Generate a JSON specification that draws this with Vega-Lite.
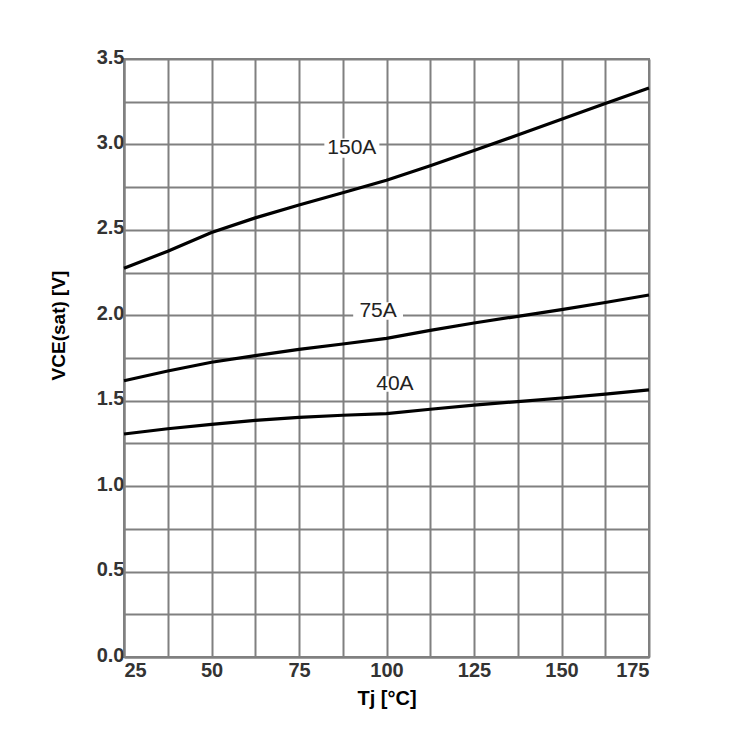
{
  "$schema": "https://vega.github.io/schema/vega-lite/v6.json",
  "autosize": {"type": "none"},
  "width": 525,
  "height": 598,
  "padding": {"left": 124, "top": 59, "right": 92, "bottom": 98},
  "background": "white",
  "config": {
    "view": {"stroke": "#808080", "strokeWidth": 2},
    "axis": {
      "grid": true,
      "gridColor": "#808080",
      "gridWidth": 2,
      "gridOpacity": 1,
      "domainColor": "#808080",
      "domainWidth": 2,
      "ticks": false,
      "labelFont": "Liberation Sans",
      "labelFontWeight": "bold",
      "labelFontSize": 20,
      "labelColor": "#333333",
      "titleFont": "Liberation Sans",
      "titleFontWeight": "bold",
      "titleFontSize": 20,
      "titleColor": "#000000"
    }
  },
  "datasets": {
    "curves": [
      {"T": 25, "V": 2.275, "I": "150A"},
      {"T": 37.5, "V": 2.375, "I": "150A"},
      {"T": 50, "V": 2.485, "I": "150A"},
      {"T": 62.5, "V": 2.57, "I": "150A"},
      {"T": 75, "V": 2.645, "I": "150A"},
      {"T": 87.5, "V": 2.717, "I": "150A"},
      {"T": 100, "V": 2.79, "I": "150A"},
      {"T": 112.5, "V": 2.875, "I": "150A"},
      {"T": 125, "V": 2.965, "I": "150A"},
      {"T": 137.5, "V": 3.055, "I": "150A"},
      {"T": 150, "V": 3.147, "I": "150A"},
      {"T": 162.5, "V": 3.24, "I": "150A"},
      {"T": 175, "V": 3.33, "I": "150A"},
      {"T": 25, "V": 1.617, "I": "75A"},
      {"T": 37.5, "V": 1.674, "I": "75A"},
      {"T": 50, "V": 1.725, "I": "75A"},
      {"T": 62.5, "V": 1.764, "I": "75A"},
      {"T": 75, "V": 1.8, "I": "75A"},
      {"T": 87.5, "V": 1.832, "I": "75A"},
      {"T": 100, "V": 1.865, "I": "75A"},
      {"T": 112.5, "V": 1.912, "I": "75A"},
      {"T": 125, "V": 1.955, "I": "75A"},
      {"T": 137.5, "V": 1.994, "I": "75A"},
      {"T": 150, "V": 2.033, "I": "75A"},
      {"T": 162.5, "V": 2.075, "I": "75A"},
      {"T": 175, "V": 2.119, "I": "75A"},
      {"T": 25, "V": 1.305, "I": "40A"},
      {"T": 37.5, "V": 1.336, "I": "40A"},
      {"T": 50, "V": 1.362, "I": "40A"},
      {"T": 62.5, "V": 1.385, "I": "40A"},
      {"T": 75, "V": 1.403, "I": "40A"},
      {"T": 87.5, "V": 1.415, "I": "40A"},
      {"T": 100, "V": 1.425, "I": "40A"},
      {"T": 112.5, "V": 1.45, "I": "40A"},
      {"T": 125, "V": 1.474, "I": "40A"},
      {"T": 137.5, "V": 1.495, "I": "40A"},
      {"T": 150, "V": 1.516, "I": "40A"},
      {"T": 162.5, "V": 1.539, "I": "40A"},
      {"T": 175, "V": 1.563, "I": "40A"}
    ],
    "labels": [
      {"T": 90.1, "V": 2.979, "label": "150A"},
      {"T": 97.6, "V": 2.025, "label": "75A"},
      {"T": 102.4, "V": 1.598, "label": "40A"}
    ]
  },
  "layer": [
    {
      "data": {"name": "curves"},
      "mark": {"type": "line", "color": "#000000", "strokeWidth": 3.2, "interpolate": "linear"},
      "encoding": {
        "x": {
          "field": "T",
          "type": "quantitative",
          "scale": {"domain": [25, 175], "nice": false, "zero": false},
          "axis": {
            "values": [25, 37.5, 50, 62.5, 75, 87.5, 100, 112.5, 125, 137.5, 150, 162.5, 175],
            "labelExpr": "datum.value % 25 == 0 ? datum.value : ''",
            "labelPadding": 3,
            "title": "Tj [°C]",
            "titleY": 41,
            "titleBaseline": "middle"
          }
        },
        "y": {
          "field": "V",
          "type": "quantitative",
          "scale": {"domain": [0, 3.5], "nice": false},
          "axis": {
            "values": [0, 0.25, 0.5, 0.75, 1, 1.25, 1.5, 1.75, 2, 2.25, 2.5, 2.75, 3, 3.25, 3.5],
            "labelExpr": "(datum.value * 2) % 1 == 0 ? format(datum.value, '.1f') : ''",
            "labelPadding": 0,
            "labelOffset": -2,
            "title": "VCE(sat) [V]",
            "titleFontSize": 19,
            "titleX": -66,
            "titleY": 266,
            "titleAlign": "center",
            "titleBaseline": "middle",
            "titleAngle": -90
          }
        },
        "detail": {"field": "I", "type": "nominal"}
      }
    },
    {
      "data": {"name": "labels"},
      "mark": {"type": "point", "filled": true, "color": "white", "opacity": 1, "shape": "M-1,-0.35H1V0.35H-1Z"},
      "encoding": {
        "x": {"field": "T", "type": "quantitative"},
        "y": {"field": "V", "type": "quantitative"},
        "size": {
          "field": "label",
          "type": "nominal",
          "scale": {"domain": ["150A", "75A", "40A"], "range": [3025, 1936, 1600]},
          "legend": null
        }
      }
    },
    {
      "data": {"name": "labels"},
      "mark": {"type": "text", "font": "Liberation Sans", "fontSize": 21, "color": "#222222", "align": "center", "baseline": "middle"},
      "encoding": {
        "x": {"field": "T", "type": "quantitative"},
        "y": {"field": "V", "type": "quantitative"},
        "text": {"field": "label", "type": "nominal"}
      }
    }
  ]
}
